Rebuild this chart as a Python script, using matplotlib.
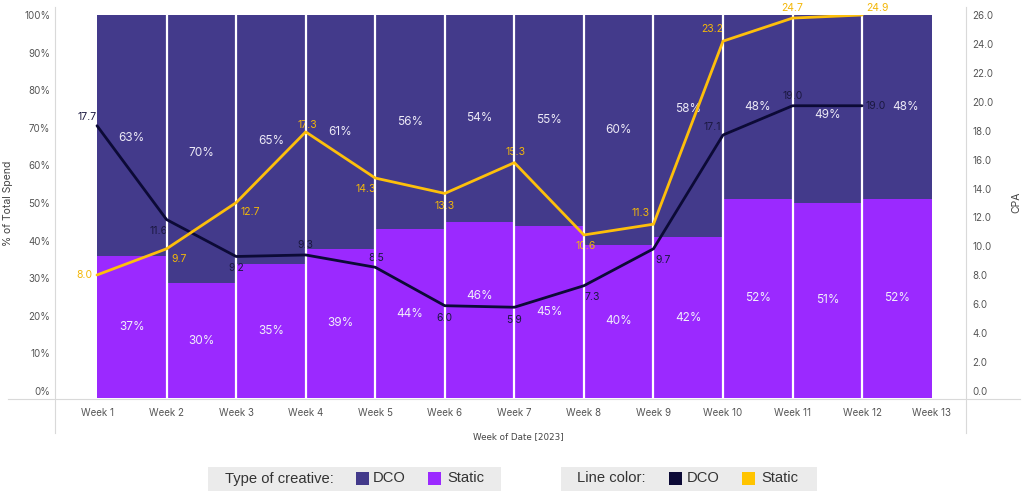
import matplotlib
matplotlib.use("Agg")
import matplotlib.pyplot as plt
from matplotlib.patches import Rectangle
from matplotlib.lines import Line2D

# ---------------- data ----------------
weeks = ["Week 1", "Week 2", "Week 3", "Week 4", "Week 5", "Week 6", "Week 7",
         "Week 8", "Week 9", "Week 10", "Week 11", "Week 12", "Week 13"]
static_pct = [37, 30, 35, 39, 44, 46, 45, 40, 42, 52, 51, 52]
dco_pct = [63, 70, 65, 61, 56, 54, 55, 60, 58, 48, 49, 48]
dco_cpa = [17.7, 11.6, 9.2, 9.3, 8.5, 6.0, 5.9, 7.3, 9.7, 17.1, 19.0, 19.0]
static_cpa = [8.0, 9.7, 12.7, 17.3, 14.3, 13.3, 15.3, 10.6, 11.3, 23.2, 24.7, 24.9]
pct_ticks = [0, 10, 20, 30, 40, 50, 60, 70, 80, 90, 100]
cpa_ticks = [0, 2, 4, 6, 8, 10, 12, 14, 16, 18, 20, 22, 24, 26]

# label offsets (points) for line value labels
dco_off = [(-7, 6), (-6, -8), (0, -8), (0, 7), (1, 7), (0, -9), (0, -9),
           (6, -8), (7, -8), (-8, 6), (0, 7), (10, 0)]
static_off = [(-9, 0), (9, -7), (10, -7), (1, 5), (-7, -8), (0, -9), (1, 8),
              (1, -8), (-9, 8), (-8, 9), (0, 7), (11, 5)]
# label nudges (points) for bar percentage labels
static_lab_off = [(0, 0)] * 5 + [(0, 10)] + [(0, 0)] * 6
dco_lab_off = [(0, -2), (0, -3), (0, -1), (0, 0), (0, 0), (0, 0), (0, 0),
               (0, 0), (0, 12), (0, 0), (0, -4.5), (6, 0)]

# ---------------- style ----------------
C_DCO_BAR = "#433a8b"
C_STATIC_BAR = "#9b29ff"
C_DCO_LINE = "#0c0a36"
C_STATIC_LINE = "#fdbf0b"
C_STATIC_TXT = "#f3b709"
C_GRID = "#d9d9d9"
C_TICK = "#555555"

W, H = 1024, 491
fig = plt.figure(figsize=(W / 100, H / 100), dpi=100)
fig.patch.set_facecolor("white")

def fy(py):
    return 1 - py / H

left, right, top, bottom = 55, 966, 15, 398
ax = fig.add_axes([left / W, fy(bottom), (right - left) / W, (bottom - top) / H])
ax.set_xlim(0.396, 13.493)
ax.set_ylim(0, 100)
xs = list(range(1, 13))
centers = [x + 0.5 for x in xs]
ax.bar(centers, static_pct, width=1.0, color=C_STATIC_BAR, linewidth=0, zorder=1)
ax.bar(centers, dco_pct, bottom=static_pct, width=1.0, color=C_DCO_BAR, linewidth=0, zorder=1)
for c, s, d, so, do in zip(centers, static_pct, dco_pct, static_lab_off, dco_lab_off):
    ax.annotate(f"{s}%", (c, s / 2), xytext=so, textcoords="offset points",
                ha="center", va="center", color="#f1eefa",
                fontsize=8.5, family="Inter", zorder=2)
    ax.annotate(f"{d}%", (c, s + d / 2), xytext=do, textcoords="offset points",
                ha="center", va="center", color="#ece9f6",
                fontsize=8.5, family="Inter", zorder=2)
ax.set_xticks(range(1, 14))
ax.set_xticklabels(weeks, fontsize=7, color=C_TICK, family="Inter")
ax.tick_params(axis="x", length=0, pad=7)
ax.set_yticks([])
for s in ax.spines.values():
    s.set_visible(False)

ax2 = ax.twinx()
ax2.set_ylim(0, max(static_cpa))
ax2.set_xlim(ax.get_xlim())
ax2.set_yticks([])
for s in ax2.spines.values():
    s.set_visible(False)
for x in range(2, 13):
    ax2.axvline(x, color="white", linewidth=1.6, zorder=2)
ax2.plot(xs, dco_cpa, color=C_DCO_LINE, linewidth=2.0, zorder=3, solid_capstyle="round")
ax2.plot(xs, static_cpa, color=C_STATIC_LINE, linewidth=2.0, zorder=3, solid_capstyle="round")
for x, v, o in zip(xs, dco_cpa, dco_off):
    ax2.annotate(f"{v:.1f}", (x, v), xytext=o, textcoords="offset points",
                 ha="center", va="center", fontsize=7.5, color="#1b1840",
                 family="Inter", zorder=1)
for x, v, o in zip(xs, static_cpa, static_off):
    ax2.annotate(f"{v:.1f}", (x, v), xytext=o, textcoords="offset points",
                 ha="center", va="center", fontsize=7.5, color=C_STATIC_TXT,
                 family="Inter", zorder=1)

# tick label axes (labels laid out slightly above the baseline, as in the reference)
axL = fig.add_axes([left / W, fy(391), (right - left) / W, (391 - top) / H])
axL.set_ylim(0, 100)
axL.set_xticks([])
axL.set_yticks(pct_ticks)
axL.set_yticklabels([f"{t}%" for t in pct_ticks], fontsize=7, color=C_TICK, family="Inter")
axL.tick_params(axis="y", length=0, pad=3.5)
axL.set_frame_on(False)
axL.patch.set_visible(False)

axR = axL.twinx()
axR.set_ylim(0, 26)
axR.set_yticks(cpa_ticks)
axR.set_yticklabels([f"{t:.1f}" for t in cpa_ticks], fontsize=7, color=C_TICK, family="Inter")
axR.tick_params(axis="y", length=0, pad=4.5)
axR.set_frame_on(False)
axR.patch.set_visible(False)

# divider lines
fig.add_artist(Line2D([left / W, left / W], [fy(7), fy(433)], color=C_GRID, linewidth=0.8))
fig.add_artist(Line2D([right / W, right / W], [fy(7), fy(433)], color=C_GRID, linewidth=0.8))
fig.add_artist(Line2D([8 / W, 1020 / W], [fy(398.5), fy(398.5)], color=C_GRID, linewidth=0.8))

# axis titles
fig.text(8 / W, fy(203), "% of Total Spend", rotation=90, ha="center", va="center",
         fontsize=7.5, color="#444444", family="Inter")
fig.text(1016 / W, fy(202), "CPA", rotation=90, ha="center", va="center",
         fontsize=7.5, color="#444444", family="Inter")
fig.text(518 / W, fy(437), "Week of Date [2023]", ha="center", va="center",
         fontsize=6.3, color="#444444", family=["Liberation Sans Narrow", "DejaVu Sans"])

# legends
LEG_FONT = "Liberation Sans"
def legend_box(x0, x1, title, title_x, items):
    fig.add_artist(Rectangle((x0 / W, fy(491)), (x1 - x0) / W, (491 - 467) / H,
                             facecolor="#ebebeb", edgecolor="none", transform=fig.transFigure))
    fig.text(title_x / W, fy(478.5), title, ha="left", va="center", fontsize=10.6,
             color="#333333", family=LEG_FONT)
    for sx, tx, col, lab in items:
        fig.add_artist(Rectangle((sx / W, fy(485)), 12.5 / W, 13 / H, facecolor=col,
                                 edgecolor="none", transform=fig.transFigure))
        fig.text(tx / W, fy(478.5), lab, ha="left", va="center", fontsize=10.6,
                 color="#333333", family=LEG_FONT)

legend_box(208, 501, "Type of creative:", 225,
           [(356, 373, C_DCO_BAR, "DCO"), (428, 447, C_STATIC_BAR, "Static")])
legend_box(561, 817, "Line color:", 577,
           [(669, 687, C_DCO_LINE, "DCO"), (742, 761, "#ffc400", "Static")])

fig.savefig("out.png", dpi=100)
